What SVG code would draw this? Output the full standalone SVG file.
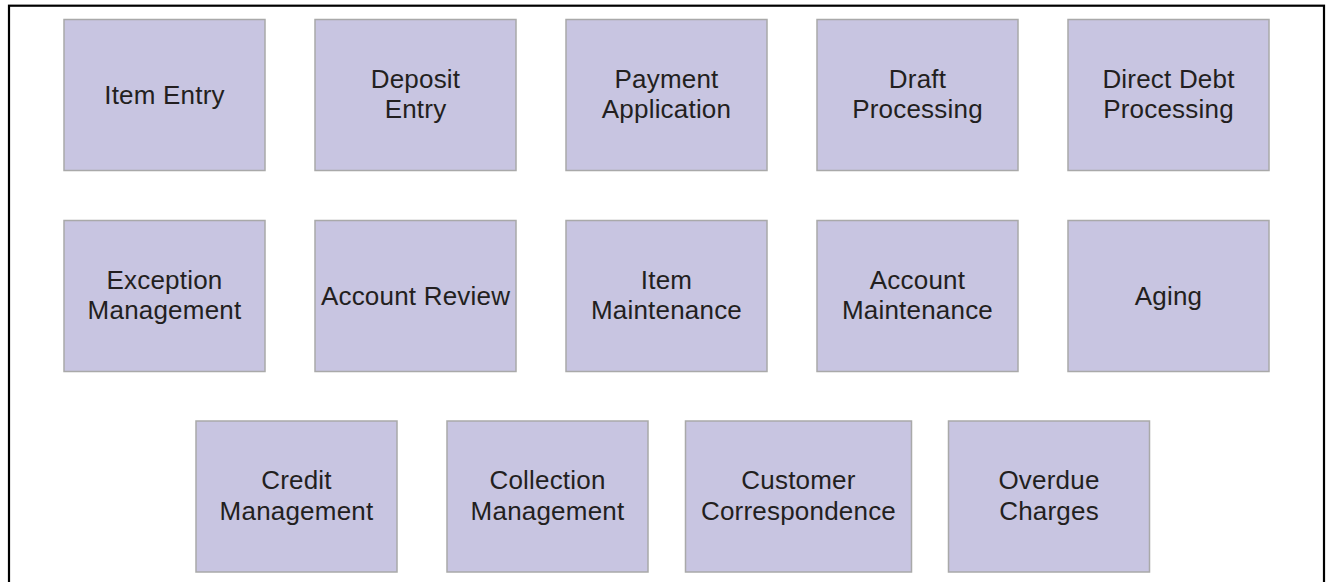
<svg xmlns="http://www.w3.org/2000/svg" width="1327" height="582" viewBox="0 0 1327 582">
<style>
.box{fill:#c8c5e1;stroke:#a9a9a9;stroke-width:1.5}
.t{font-family:"Liberation Sans",Arial,sans-serif;font-size:26px;letter-spacing:0.2px;fill:#231f20;text-anchor:middle}
</style>
<rect x="0" y="0" width="1327" height="582" fill="#ffffff"/>
<rect x="9" y="5.7" width="1315" height="620" fill="none" stroke="#000000" stroke-width="2.2"/>
<g id="connectors"></g>
<g id="item-entry"><rect class="box" x="64" y="19.5" width="201" height="151"/><text class="t" x="164.5" y="103.5">Item Entry</text></g>
<g id="deposit-entry"><rect class="box" x="315" y="19.5" width="201" height="151"/><text class="t" x="415.5" y="87.5">Deposit</text><text class="t" x="415.5" y="117.5">Entry</text></g>
<g id="payment-application"><rect class="box" x="566" y="19.5" width="201" height="151"/><text class="t" x="666.5" y="87.5">Payment</text><text class="t" x="666.5" y="117.5">Application</text></g>
<g id="draft-processing"><rect class="box" x="817" y="19.5" width="201" height="151"/><text class="t" x="917.5" y="87.5">Draft</text><text class="t" x="917.5" y="117.5">Processing</text></g>
<g id="direct-debt-processing"><rect class="box" x="1068" y="19.5" width="201" height="151"/><text class="t" x="1168.5" y="87.5">Direct Debt</text><text class="t" x="1168.5" y="117.5">Processing</text></g>
<g id="exception-management"><rect class="box" x="64" y="220.5" width="201" height="151"/><text class="t" x="164.5" y="288.5">Exception</text><text class="t" x="164.5" y="319">Management</text></g>
<g id="account-review"><rect class="box" x="315" y="220.5" width="201" height="151"/><text class="t" x="415.5" y="305">Account Review</text></g>
<g id="item-maintenance"><rect class="box" x="566" y="220.5" width="201" height="151"/><text class="t" x="666.5" y="288.5">Item</text><text class="t" x="666.5" y="319">Maintenance</text></g>
<g id="account-maintenance"><rect class="box" x="817" y="220.5" width="201" height="151"/><text class="t" x="917.5" y="288.5">Account</text><text class="t" x="917.5" y="319">Maintenance</text></g>
<g id="aging"><rect class="box" x="1068" y="220.5" width="201" height="151"/><text class="t" x="1168.5" y="305">Aging</text></g>
<g id="credit-management"><rect class="box" x="196" y="421" width="201" height="151"/><text class="t" x="296.5" y="489">Credit</text><text class="t" x="296.5" y="519.5">Management</text></g>
<g id="collection-management"><rect class="box" x="447" y="421" width="201" height="151"/><text class="t" x="547.5" y="489">Collection</text><text class="t" x="547.5" y="519.5">Management</text></g>
<g id="customer-correspondence"><rect class="box" x="685.5" y="421" width="226" height="151"/><text class="t" x="798.5" y="489">Customer</text><text class="t" x="798.5" y="519.5">Correspondence</text></g>
<g id="overdue-charges"><rect class="box" x="948.5" y="421" width="201" height="151"/><text class="t" x="1049" y="489">Overdue</text><text class="t" x="1049" y="519.5">Charges</text></g>
</svg>
